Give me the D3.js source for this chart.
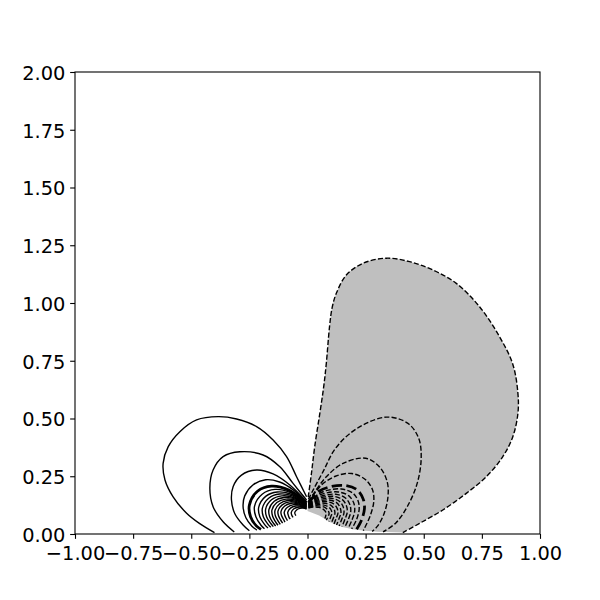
<!DOCTYPE html>
<html><head><meta charset="utf-8">
<script src="https://cdn.jsdelivr.net/npm/d3@7"></script>
<style>body{margin:0;background:#fff}</style></head>
<body>
<svg id="c" width="600" height="600"></svg>
<script>
// Tick values
const xTicks = [-1, -0.75, -0.5, -0.25, 0, 0.25, 0.5, 0.75, 1];
const yTicks = [0, 0.25, 0.5, 0.75, 1, 1.25, 1.5, 1.75, 2];

// Outer negative contour (boundary of the grey filled region)
const grayBoundary = [[0.003,0.16],[0.017,0.263],[0.031,0.378],[0.053,0.522],[0.07,0.64],[0.081,0.74],[0.095,0.9],[0.106,0.98],[0.124,1.042],[0.167,1.121],[0.239,1.172],[0.339,1.194],[0.439,1.179],[0.539,1.143],[0.64,1.085],[0.74,0.984],[0.826,0.854],[0.883,0.735],[0.905,0.609],[0.905,0.522],[0.883,0.421],[0.84,0.335],[0.769,0.248],[0.683,0.176],[0.582,0.104],[0.482,0.046],[0.41,0.006]];

// Ground surface under the grey region (right flank of the hill)
const terrainRight = [[0.41,0.006],[0.3,0.01],[0.25,0.0138],[0.2,0.02],[0.15,0.0308],[0.1,0.05],[0.05,0.08],[0,0.1]];

// Positive (solid) contours, outer to inner
const solidLines = [
 [[-0.004,0.161],[-0.047,0.248],[-0.09,0.335],[-0.148,0.407],[-0.219,0.465],[-0.305,0.498],[-0.384,0.508],[-0.477,0.494],[-0.549,0.443],[-0.599,0.378],[-0.621,0.306],[-0.613,0.234],[-0.578,0.161],[-0.52,0.09],[-0.465,0.046],[-0.4,0.006]],
 [[-0.004,0.147],[-0.062,0.219],[-0.119,0.291],[-0.191,0.342],[-0.291,0.356],[-0.363,0.335],[-0.406,0.277],[-0.42,0.198],[-0.406,0.118],[-0.363,0.053],[-0.315,0.009]],
 [[-0.004,0.14],[-0.076,0.212],[-0.148,0.26],[-0.219,0.277],[-0.284,0.255],[-0.32,0.205],[-0.327,0.147],[-0.313,0.089],[-0.277,0.039],[-0.25,0.014]],
 [[-0.004,0.137],[-0.06,0.19],[-0.12,0.225],[-0.18,0.235],[-0.235,0.212],[-0.27,0.165],[-0.277,0.118],[-0.265,0.07],[-0.24,0.035],[-0.218,0.017]],
 [[-0.004,0.135],[-0.08,0.19],[-0.155,0.207],[-0.215,0.185],[-0.25,0.125],[-0.245,0.075],[-0.22,0.035],[-0.2,0.02]],
 [[-0.004,0.132],[-0.075,0.18],[-0.14,0.193],[-0.195,0.172],[-0.228,0.12],[-0.222,0.075],[-0.2,0.038],[-0.185,0.023]],
 [[-0.004,0.13],[-0.07,0.172],[-0.13,0.182],[-0.18,0.163],[-0.21,0.115],[-0.205,0.075],[-0.185,0.042],[-0.17,0.026]],
 [[-0.004,0.128],[-0.065,0.165],[-0.12,0.173],[-0.167,0.155],[-0.194,0.112],[-0.19,0.075],[-0.172,0.045],[-0.158,0.029]],
 [[-0.004,0.126],[-0.06,0.158],[-0.11,0.165],[-0.155,0.148],[-0.18,0.108],[-0.176,0.075],[-0.16,0.048],[-0.147,0.032]],
 [[-0.004,0.124],[-0.055,0.152],[-0.1,0.158],[-0.143,0.142],[-0.166,0.105],[-0.163,0.076],[-0.15,0.051],[-0.137,0.035]],
 [[-0.004,0.122],[-0.05,0.146],[-0.093,0.151],[-0.132,0.136],[-0.153,0.103],[-0.15,0.077],[-0.138,0.054],[-0.127,0.038]],
 [[-0.004,0.12],[-0.046,0.14],[-0.085,0.145],[-0.12,0.131],[-0.14,0.101],[-0.138,0.078],[-0.127,0.057],[-0.117,0.042]],
 [[-0.004,0.118],[-0.042,0.135],[-0.077,0.139],[-0.109,0.126],[-0.127,0.099],[-0.125,0.08],[-0.116,0.061],[-0.107,0.047]],
 [[-0.004,0.116],[-0.038,0.13],[-0.069,0.133],[-0.098,0.121],[-0.114,0.097],[-0.112,0.081],[-0.104,0.065],[-0.097,0.0515]],
 [[-0.004,0.114],[-0.033,0.125],[-0.06,0.127],[-0.086,0.116],[-0.1,0.095],[-0.098,0.082],[-0.092,0.068],[-0.086,0.0575]],
 [[-0.004,0.112],[-0.028,0.12],[-0.051,0.121],[-0.073,0.112],[-0.085,0.094],[-0.083,0.083],[-0.079,0.071],[-0.074,0.0646]],
 [[-0.004,0.11],[-0.023,0.116],[-0.042,0.116],[-0.06,0.108],[-0.07,0.093],[-0.067,0.08],[-0.062,0.072]],
 [[-0.004,0.108],[-0.018,0.112],[-0.033,0.111],[-0.047,0.104],[-0.055,0.092],[-0.05,0.08]]
];
const thickSolid = 4;

// Negative (dashed) contours inside the grey region, outer to inner
const dashedLines = [
 [[0.004,0.15],[0.024,0.19],[0.067,0.27],[0.12,0.37],[0.21,0.455],[0.339,0.506],[0.432,0.479],[0.478,0.415],[0.489,0.33],[0.472,0.22],[0.43,0.12],[0.38,0.048],[0.325,0.009]],
 [[0.004,0.14],[0.03,0.18],[0.081,0.248],[0.153,0.306],[0.25,0.328],[0.31,0.29],[0.343,0.225],[0.346,0.16],[0.33,0.09],[0.302,0.035],[0.278,0.0115]],
 [[0.004,0.138],[0.06,0.212],[0.12,0.25],[0.19,0.262],[0.25,0.235],[0.28,0.19],[0.285,0.14],[0.27,0.08],[0.24,0.0148]],
 [[0.004,0.135],[0.05,0.185],[0.1,0.205],[0.16,0.21],[0.215,0.19],[0.24,0.15],[0.245,0.11],[0.232,0.06],[0.21,0.0185]],
 [[0.004,0.132],[0.045,0.172],[0.09,0.19],[0.145,0.195],[0.195,0.177],[0.218,0.142],[0.222,0.105],[0.21,0.06],[0.19,0.022]],
 [[0.004,0.13],[0.04,0.163],[0.083,0.178],[0.133,0.182],[0.178,0.165],[0.199,0.134],[0.203,0.1],[0.192,0.062],[0.175,0.025]],
 [[0.004,0.128],[0.037,0.155],[0.076,0.168],[0.122,0.172],[0.163,0.156],[0.182,0.128],[0.186,0.097],[0.176,0.064],[0.16,0.028]],
 [[0.004,0.126],[0.034,0.149],[0.07,0.16],[0.112,0.163],[0.15,0.149],[0.167,0.123],[0.171,0.095],[0.162,0.066],[0.148,0.031]],
 [[0.004,0.124],[0.031,0.143],[0.064,0.152],[0.102,0.155],[0.137,0.142],[0.153,0.119],[0.157,0.093],[0.149,0.068],[0.136,0.035]],
 [[0.004,0.122],[0.028,0.138],[0.058,0.145],[0.093,0.147],[0.125,0.136],[0.14,0.115],[0.144,0.092],[0.137,0.07],[0.125,0.039]],
 [[0.004,0.12],[0.026,0.133],[0.052,0.139],[0.084,0.14],[0.113,0.13],[0.127,0.112],[0.131,0.091],[0.125,0.072],[0.114,0.0435]],
 [[0.004,0.118],[0.023,0.128],[0.047,0.133],[0.075,0.133],[0.101,0.124],[0.114,0.109],[0.118,0.09],[0.113,0.074],[0.103,0.0485]],
 [[0.004,0.116],[0.021,0.124],[0.042,0.127],[0.066,0.126],[0.089,0.118],[0.101,0.105],[0.105,0.09],[0.1,0.075],[0.092,0.054]],
 [[0.004,0.114],[0.019,0.12],[0.037,0.122],[0.058,0.12],[0.078,0.113],[0.089,0.101],[0.093,0.089],[0.089,0.076],[0.081,0.0604]],
 [[0.004,0.112],[0.017,0.116],[0.032,0.117],[0.05,0.115],[0.067,0.108],[0.077,0.098],[0.08,0.088],[0.075,0.0671]]
];
const thickDashed = 3;

const W = 600, H = 600;
const L = 75, R = 540, T = 72, B = 534;
const x = d3.scaleLinear().domain([-1, 1]).range([L, R]);
const y = d3.scaleLinear().domain([0, 2]).range([B, T]);

const svg = d3.select('#c');
svg.append('rect').attr('width', W).attr('height', H).attr('fill', '#fff');
svg.append('defs').append('clipPath').attr('id', 'clip')
  .append('rect').attr('x', L).attr('y', T).attr('width', R - L).attr('height', B - T);

const line = d3.line().x(d => x(d[0])).y(d => y(d[1])).curve(d3.curveCatmullRom.alpha(0.5));
const g = svg.append('g').attr('clip-path', 'url(#clip)');

// grey filled region
const fillD = line(grayBoundary) + terrainRight.map(p => 'L' + x(p[0]) + ',' + y(p[1])).join('') + 'Z';
g.append('path').attr('d', fillD).attr('fill', '#bfbfbf').attr('stroke', 'none');

const lw = 1.39;
g.selectAll('path.solid').data(solidLines).join('path')
  .attr('class', 'solid')
  .attr('d', line)
  .attr('fill', 'none').attr('stroke', '#000')
  .attr('stroke-width', (d, i) => i === thickSolid ? 2 * lw : lw);

g.selectAll('path.dash').data(dashedLines).join('path')
  .attr('class', 'dash')
  .attr('d', line)
  .attr('fill', 'none').attr('stroke', '#000')
  .attr('stroke-width', (d, i) => i === thickDashed ? 2 * lw : lw)
  .attr('stroke-dasharray', (d, i) => i === thickDashed ? '10.3,4.4' : '5.1,2.2');

g.append('path').attr('d', line(grayBoundary))
  .attr('fill', 'none').attr('stroke', '#000').attr('stroke-width', lw)
  .attr('stroke-dasharray', '5.1,2.2');

// axes
const fmt = d3.format('.2f');
const fontSize = '19.4px';
const xAxis = svg.append('g').attr('transform', `translate(0,${B})`)
  .call(d3.axisBottom(x).tickValues(xTicks).tickFormat(fmt).tickSize(4.86).tickSizeOuter(0));
const yAxis = svg.append('g').attr('transform', `translate(${L},0)`)
  .call(d3.axisLeft(y).tickValues(yTicks).tickFormat(fmt).tickSize(4.86).tickSizeOuter(0));
[xAxis, yAxis].forEach(a => {
  a.attr('font-family', '"DejaVu Sans", sans-serif').attr('font-size', fontSize);
  a.select('.domain').remove();
  a.selectAll('.tick line').attr('stroke', '#000').attr('stroke-width', 1.1);
  a.selectAll('.tick text').attr('fill', '#000');
});
xAxis.selectAll('.tick text').attr('y', 25.5).attr('dy', null);
yAxis.selectAll('.tick text').attr('x', -9.7).attr('dy', null).attr('y', 7.3);

svg.append('rect').attr('x', L).attr('y', T).attr('width', R - L).attr('height', B - T)
  .attr('fill', 'none').attr('stroke', '#000').attr('stroke-width', 1.1);
</script>
</body></html>
